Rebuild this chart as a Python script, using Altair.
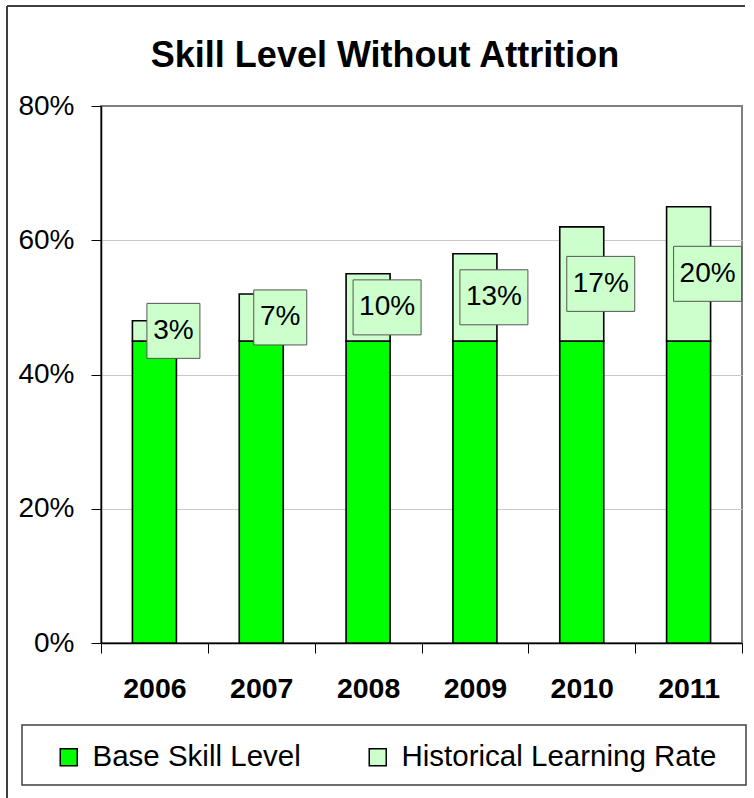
import altair as alt
import pandas as pd

years = ["2006", "2007", "2008", "2009", "2010", "2011"]
base_skill = [45, 45, 45, 45, 45, 45]
learning_rate = [3, 7, 10, 13, 17, 20]
series_names = ["Base Skill Level", "Historical Learning Rate"]
series_colors = ["#00FF00", "#CCFFCC"]
y_ticks = [0, 20, 40, 60, 80]
chart_title = "Skill Level Without Attrition"

rows = []
for y, b, l in zip(years, base_skill, learning_rate):
    rows.append({"year": y, "series": series_names[0], "value": b, "ord": 0})
    rows.append({"year": y, "series": series_names[1], "value": l, "ord": 1})
df = pd.DataFrame(rows)
lab = pd.DataFrame({"year": years, "base": base_skill, "learn": learning_rate})

PW, PH = 641, 537
FONT = "Liberation Sans"

xenc = alt.X(
    "year:N",
    sort=years,
    scale=alt.Scale(paddingInner=0, paddingOuter=0),
    axis=alt.Axis(
        title=None, labelAngle=0, tickBand="extent", tickSize=10, tickColor="black",
        domainColor="black", domainWidth=1.5, labelFontSize=28.5, labelFont=FONT,
        labelFontWeight="bold", labelColor="black", labelPadding=21, grid=False,
    ),
)
yscale = alt.Scale(domain=[0, 80], nice=False)

bars = alt.Chart(df).mark_bar(width=44, stroke="black", strokeWidth=1.6).encode(
    x=xenc,
    y=alt.Y(
        "value:Q", stack="zero", scale=yscale,
        axis=alt.Axis(
            title=None, values=y_ticks, labelExpr="datum.value + '%'", tickSize=10,
            tickColor="black", domainColor="black", domainWidth=1.5, labelFontSize=28,
            labelFont=FONT, labelColor="black", labelPadding=17, grid=True,
            gridColor=alt.condition("datum.value == 80", alt.value("#808080"), alt.value("#c8c8c8")),
            gridWidth=1,
        ),
    ),
    color=alt.Color(
        "series:N",
        scale=alt.Scale(domain=series_names, range=series_colors),
        legend=alt.Legend(
            title=None, orient="none", legendX=-47, legendY=636, direction="horizontal",
            symbolType="square", symbolSize=289, symbolStrokeColor="black",
            symbolStrokeWidth=1.5, labelFontSize=29.5, labelFont=FONT, labelColor="black",
            labelOffset=9, labelLimit=0, columnPadding=62, padding=0,
        ),
    ),
    order=alt.Order("ord:Q"),
)

lab_base = alt.Chart(lab).transform_calculate(
    mid="datum.base + datum.learn / 2", txt="datum.learn + '%'"
)
box_small = lab_base.transform_filter("datum.learn < 10").mark_rect(
    width=53, height=55, xOffset=19, fill="#CCFFCC", stroke="#555555", strokeWidth=1
).encode(x=alt.X("year:N", sort=years), y=alt.Y("mid:Q", scale=yscale))
box_big = lab_base.transform_filter("datum.learn >= 10").mark_rect(
    width=68, height=55, xOffset=19, fill="#CCFFCC", stroke="#555555", strokeWidth=1
).encode(x=alt.X("year:N", sort=years), y=alt.Y("mid:Q", scale=yscale))
texts = lab_base.mark_text(
    xOffset=19, fontSize=28, font=FONT, color="black", align="center", baseline="middle"
).encode(x=alt.X("year:N", sort=years), y=alt.Y("mid:Q", scale=yscale), text="txt:N")

deco = pd.DataFrame({"k": [0]})
outer_top = alt.Chart(deco).mark_rule(color="#404040", strokeWidth=2).encode(
    x=alt.value(-94), x2=alt.value(644), y=alt.value(-100)
)
outer_left = alt.Chart(deco).mark_rule(color="#404040", strokeWidth=2).encode(
    x=alt.value(-94), y=alt.value(-100), y2=alt.value(700)
)
legend_box = alt.Chart(deco).mark_rect(fill="white", fillOpacity=0, stroke="#404040", strokeWidth=1.5).encode(
    x=alt.value(-79), x2=alt.value(645), y=alt.value(619), y2=alt.value(679)
)
title_text = alt.Chart(pd.DataFrame({"t": [chart_title]})).mark_text(
    fontSize=36, font=FONT, fontWeight="bold", color="black", align="center",
    baseline="alphabetic",
).encode(x=alt.value(284), y=alt.value(-39), text="t:N")

chart = alt.layer(outer_top, outer_left, legend_box, title_text, bars, box_small, box_big, texts).properties(
    width=PW, height=PH,
    autosize=alt.AutoSizeParams(type="none"),
    padding={"left": 101, "top": 106, "right": 12, "bottom": 155},
    background="white",
).configure_view(stroke="#808080", strokeWidth=2)

chart.save("out.html", embed_options={"renderer": "svg", "actions": False})
